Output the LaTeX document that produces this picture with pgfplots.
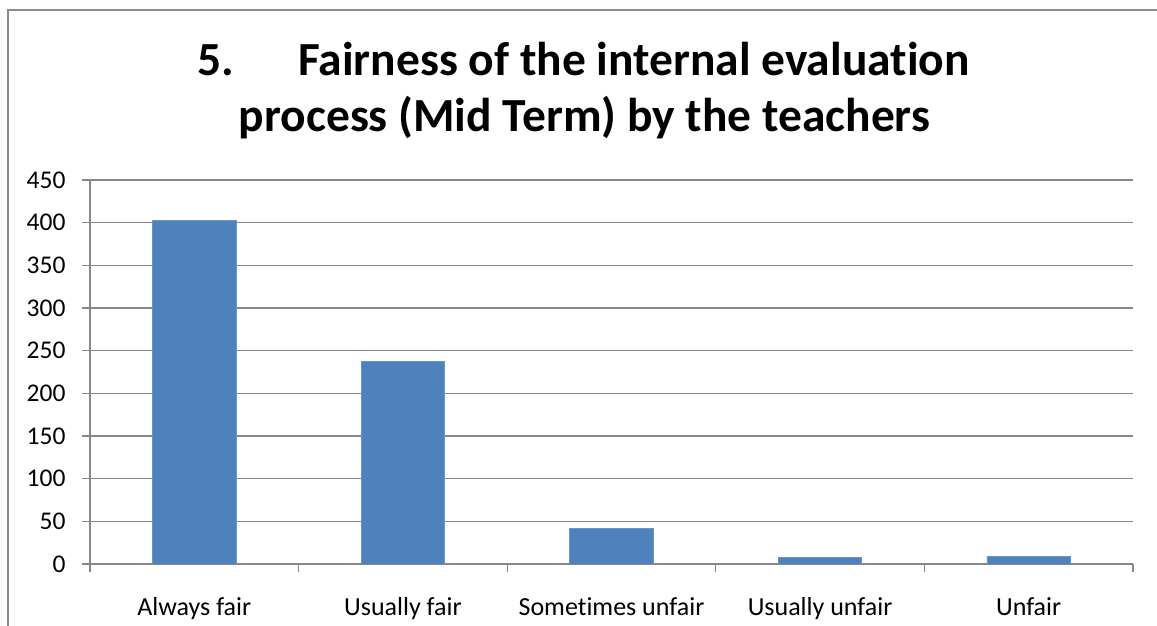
\documentclass[border=0pt]{standalone}
\usepackage{fontspec}
\setmainfont{Carlito}[Ligatures=NoCommon]
\usepackage{pgfplots}
\pgfplotsset{compat=1.18}
\definecolor{barblue}{HTML}{4F81BD}
\definecolor{baredge}{HTML}{6A95C8}
\definecolor{gridgray}{HTML}{878787}
\definecolor{framegray}{HTML}{8C8C8C}
\begin{document}
\begin{tikzpicture}[x=1pt,y=1pt]
\useasboundingbox (0,0) rectangle (1157,626);
\draw[color=framegray, line width=1.5pt] (8,0) -- (8,616) -- (1160,616);
\node[anchor=base, font=\fontsize{47.5}{56}\selectfont\bfseries] at (583.5,550) {5.\hspace{64pt}Fairness of the internal evaluation};
\node[anchor=base, font=\fontsize{47.5}{56}\selectfont\bfseries] at (584.5,494) {process (Mid Term) by the teachers};
\begin{axis}[
  at={(90pt,62pt)}, anchor=south west,
  scale only axis, width=1043pt, height=384pt,
  xmin=-0.5, xmax=4.5, ymin=0, ymax=450,
  enlargelimits=false,
  axis x line=bottom, axis y line=left,
  axis line style={-, draw=gridgray, line width=1.3pt},
  ytick={0,50,...,450},
  xtick={0,...,4},
  xticklabels={Always fair, Usually fair, Sometimes unfair, Usually unfair, Unfair},
  minor xtick={-0.5,0.5,...,4.5},
  tick align=outside,
  major tick length=8pt, minor tick length=8pt,
  major x tick style={draw=none},
  tick style={draw=gridgray, line width=1.2pt},
  ymajorgrids, grid style={draw=gridgray, line width=1.2pt},
  /pgf/number format/assume math mode=true,
  yticklabel style={anchor=east, xshift=-13pt, font=\fontsize{25.5}{30}\selectfont},
  xticklabel style={anchor=base, yshift=-44pt, font=\fontsize{26}{30}\selectfont},
  ybar, bar width=0.4,
]
\addplot[fill=barblue, draw=baredge, line width=0.8pt] coordinates {(0,403) (1,237) (2,42) (3,8) (4,9)};
\end{axis}
\end{tikzpicture}
\end{document}
